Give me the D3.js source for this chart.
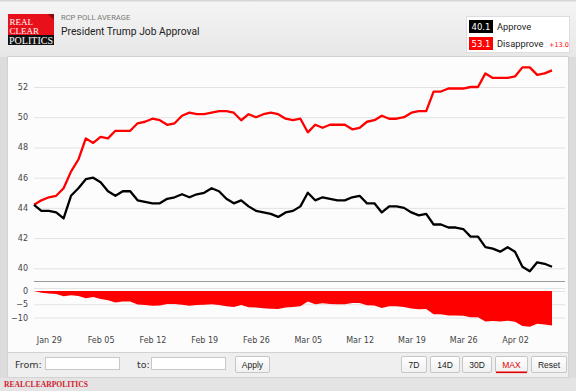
<!DOCTYPE html>
<html><head><meta charset="utf-8">
<script src="https://cdn.jsdelivr.net/npm/d3@7"></script>
<style>
html,body{margin:0;padding:0;background:#e2e2e2;}
svg{display:block;}
</style></head>
<body>
<svg id="c" width="576" height="391"></svg>
<script>
// ---- data (daily RCP averages, Jan 27 - Apr 7) ----
const startDate = "2025-01-27";
const approve = [44.2,43.8,43.8,43.7,43.3,44.8,45.3,45.9,46.0,45.7,45.1,44.8,45.1,45.1,44.5,44.4,44.3,44.3,44.6,44.7,
  44.9,44.7,44.9,45.0,45.3,45.1,44.6,44.3,44.5,44.1,43.8,43.7,43.6,43.4,43.7,43.8,44.1,45.0,44.5,44.7,
  44.6,44.5,44.5,44.7,44.8,44.3,44.3,43.7,44.1,44.1,44.0,43.7,43.5,43.6,42.9,42.9,42.7,42.7,42.6,42.1,
  42.1,41.4,41.3,41.1,41.4,41.1,40.1,39.8,40.4,40.3,40.1];
const disapprove = [44.2,44.5,44.7,44.8,45.3,46.4,47.2,48.6,48.3,48.7,48.6,49.1,49.1,49.1,49.6,49.7,49.9,49.8,49.5,49.6,
  50.1,50.3,50.2,50.2,50.3,50.4,50.4,50.3,49.8,50.2,50.0,50.2,50.3,50.2,49.9,49.8,49.9,49.0,49.5,49.3,
  49.5,49.5,49.5,49.2,49.3,49.7,49.8,50.1,49.9,49.9,50.0,50.3,50.4,50.4,51.7,51.7,51.9,51.9,51.9,52.0,
  52.0,52.9,52.6,52.6,52.6,52.7,53.3,53.3,52.8,52.9,53.1];
const yTicks = [40,42,44,46,48,50,52];
const spreadTicks = [0,-5,-10];
const xTickDates = ["2025-01-29","2025-02-05","2025-02-12","2025-02-19","2025-02-26","2025-03-05","2025-03-12","2025-03-19","2025-03-26","2025-04-02"];
const seriesNames = ["Approve","Disapprove"];
const rangeButtons = ["7D","14D","30D","MAX","Reset"];

const parse = d3.utcParse("%Y-%m-%d");
const d0 = parse(startDate);
const data = approve.map((a,i)=>({date:d3.utcDay.offset(d0,i), a, d:disapprove[i], s:+(a-disapprove[i]).toFixed(1)}));
const last = data[data.length-1];

const svg = d3.select("#c");
const W=576,H=391;

// background pieces
const defs = svg.append("defs");
const g1 = defs.append("linearGradient").attr("id","hdr").attr("x1",0).attr("y1",0).attr("x2",0).attr("y2",1);
g1.append("stop").attr("offset","0%").attr("stop-color","#f5f5f5");
g1.append("stop").attr("offset","100%").attr("stop-color","#e7e7e7");
const g2 = defs.append("linearGradient").attr("id","btn").attr("x1",0).attr("y1",0).attr("x2",0).attr("y2",1);
g2.append("stop").attr("offset","0%").attr("stop-color","#ffffff");
g2.append("stop").attr("offset","100%").attr("stop-color","#f0f0f0");

svg.append("rect").attr("x",0).attr("y",0).attr("width",W).attr("height",H).attr("fill","#dcdcdc");
svg.append("rect").attr("x",0).attr("y",0).attr("width",W).attr("height",57).attr("fill","url(#hdr)");
svg.append("rect").attr("x",0).attr("y",0).attr("width",W).attr("height",1.5).attr("fill","#d6d6d6");
// chart panel
svg.append("rect").attr("x",7.5).attr("y",56.5).attr("width",561).attr("height",296).attr("fill","#fcfcfd").attr("stroke","#d2d2d2");
// control bar
svg.append("rect").attr("x",7.5).attr("y",352.5).attr("width",561).attr("height",25).attr("fill","#efefef").attr("stroke","#d2d2d2");
svg.append("rect").attr("x",0).attr("y",378).attr("width",W).attr("height",13).attr("fill","#e4e4e4");

// logo
const logo = svg.append("g");
logo.append("rect").attr("x",8).attr("y",14).attr("width",46).attr("height",22).attr("fill","#e8101a");
logo.append("path").attr("d","M48,14 L54,14 L54,20 Z").attr("fill","#8a0b0f");
logo.append("rect").attr("x",8).attr("y",35).attr("width",46).attr("height",10).attr("fill","#111");
const lf = "'Liberation Serif','DejaVu Serif',serif";
logo.append("text").attr("x",9.5).attr("y",24.5).text("REAL").attr("fill","#fff").attr("font-family",lf).attr("font-size",9);
logo.append("text").attr("x",9.5).attr("y",33.5).text("CLEAR").attr("fill","#fff").attr("font-family",lf).attr("font-size",9);
logo.append("text").attr("x",9).attr("y",43.5).text("POLITICS").attr("fill","#fff").attr("font-family",lf).attr("font-size",9.5)
  .attr("textLength",44).attr("lengthAdjust","spacingAndGlyphs");

// titles
const rf = "Roboto,'Noto Sans',sans-serif";
svg.append("text").attr("x",61).attr("y",20).text("RCP POLL AVERAGE").attr("font-family",rf).attr("font-size",7.6).attr("fill","#777");
svg.append("text").attr("x",61).attr("y",34.5).text("President Trump Job Approval").attr("font-family",rf).attr("font-size",10.3).attr("fill","#222");

// legend
const lg = svg.append("g");
lg.append("rect").attr("x",466.5).attr("y",16.5).attr("width",103).attr("height",36).attr("fill","#fff").attr("stroke","#ddd");
const legendRows = [
  {val:last.a, name:seriesNames[0], color:"#000", y:20},
  {val:last.d, name:seriesNames[1], color:"#ff0000", y:37}
];
legendRows.forEach(r=>{
  lg.append("rect").attr("x",469).attr("y",r.y).attr("width",24).attr("height",13).attr("fill",r.color);
  lg.append("text").attr("x",481).attr("y",r.y+9.8).attr("text-anchor","middle").text(r.val.toFixed(1))
    .attr("fill","#fff").attr("font-family","'DejaVu Sans',sans-serif").attr("font-size",8.5);
  lg.append("text").attr("x",497).attr("y",r.y+10).text(r.name).attr("fill","#222").attr("font-family",rf).attr("font-size",9.3);
});
lg.append("text").attr("x",549).attr("y",47).text("+"+(last.d-last.a).toFixed(1)).attr("fill","#ff0000")
  .attr("font-family","'DejaVu Sans',sans-serif").attr("font-size",6.5);

// scales
const x = d3.scaleUtc().domain([data[0].date, last.date]).range([34,552]);
const y = d3.scaleLinear().domain([40,52]).range([268.3,87]);
const ys = d3.scaleLinear().domain([-10,0]).range([317.5,291]);
const plotL = 34, plotR = 565;
const af = "'DejaVu Sans',Verdana,sans-serif";

// top grid + y axis
const yAxis = d3.axisLeft(y).tickValues(yTicks).tickSize(-(plotR-plotL)).tickFormat(d3.format("d"));
const gy = svg.append("g").attr("transform",`translate(${plotL},0)`).call(yAxis);
gy.select(".domain").remove();
gy.selectAll(".tick line").attr("stroke","#e2e2e2");
gy.selectAll(".tick text").attr("x",-6).attr("fill","#444").attr("font-family",af).attr("font-size",8);

// separators
svg.append("line").attr("x1",plotL).attr("x2",plotR).attr("y1",281.5).attr("y2",281.5).attr("stroke","#999");
svg.append("line").attr("x1",plotL).attr("x2",plotR).attr("y1",288.5).attr("y2",288.5).attr("stroke","#e4e4e4");

// lower grid + axis
const sAxis = d3.axisLeft(ys).tickValues(spreadTicks).tickSize(-(plotR-plotL)).tickFormat(d3.format("d"));
const gs = svg.append("g").attr("transform",`translate(${plotL},0)`).call(sAxis);
gs.select(".domain").remove();
gs.selectAll(".tick line").attr("stroke","#e2e2e2");
gs.selectAll(".tick text").attr("x",-6).attr("fill","#444").attr("font-family",af).attr("font-size",8);

// spread area
const area = d3.area().x(d=>x(d.date)).y0(ys(0)).y1(d=>ys(d.s)).curve(d3.curveLinear);
svg.append("path").datum(data).attr("d",area).attr("fill","#ff0000");

// lines
const lineA = d3.line().x(d=>x(d.date)).y(d=>y(d.a));
const lineD = d3.line().x(d=>x(d.date)).y(d=>y(d.d));
svg.append("path").datum(data).attr("d",lineD).attr("fill","none").attr("stroke","#ff0000").attr("stroke-width",2.3).attr("stroke-linejoin","round");
svg.append("path").datum(data).attr("d",lineA).attr("fill","none").attr("stroke","#000").attr("stroke-width",2.3).attr("stroke-linejoin","round");

// x axis
const xAxis = d3.axisBottom(x).tickValues(xTickDates.map(parse)).tickSize(0).tickFormat(d3.utcFormat("%b %d"));
const gx = svg.append("g").attr("transform","translate(0,334)").call(xAxis);
gx.select(".domain").remove();
gx.selectAll(".tick text").attr("fill","#444").attr("font-family",af).attr("font-size",8);

// controls
const cf = "'DejaVu Sans',Verdana,sans-serif";
svg.append("text").attr("x",15).attr("y",368).text("From:").attr("font-family",cf).attr("font-size",9.5).attr("fill","#333");
svg.append("rect").attr("x",45.5).attr("y",357.5).attr("width",74).attr("height",12).attr("fill","#fff").attr("stroke","#c8c8c8");
svg.append("text").attr("x",137).attr("y",368).text("to:").attr("font-family",cf).attr("font-size",9.5).attr("fill","#333");
svg.append("rect").attr("x",151.5).attr("y",357.5).attr("width",74).attr("height",12).attr("fill","#fff").attr("stroke","#c8c8c8");
const bf = "'Liberation Sans',Arial,sans-serif";
function button(x0,w,label,color){
  svg.append("rect").attr("x",x0+0.5).attr("y",356.5).attr("width",w).attr("height",16).attr("rx",1.5)
    .attr("fill","url(#btn)").attr("stroke","#c6c6c6");
  svg.append("text").attr("x",x0+w/2+0.5).attr("y",367.5).attr("text-anchor","middle").text(label)
    .attr("font-family",bf).attr("font-size",8.5).attr("fill",color);
}
button(235,34,"Apply","#222");
const btnX = [401,430,462,495,531], btnW=[25,29,29,32,35];
rangeButtons.forEach((b,i)=>button(btnX[i],btnW[i],b,b==="MAX"?"#e00000":"#222"));
svg.append("rect").attr("x",496).attr("y",371.5).attr("width",31).attr("height",1.6).attr("fill","#e00000");

// footer
svg.append("text").attr("x",4).attr("y",387).text("REALCLEARPOLITICS").attr("fill","#d2202f")
  .attr("font-family",lf).attr("font-weight","bold").attr("font-size",8.5)
  .attr("textLength",84).attr("lengthAdjust","spacingAndGlyphs");
</script>
</body></html>
